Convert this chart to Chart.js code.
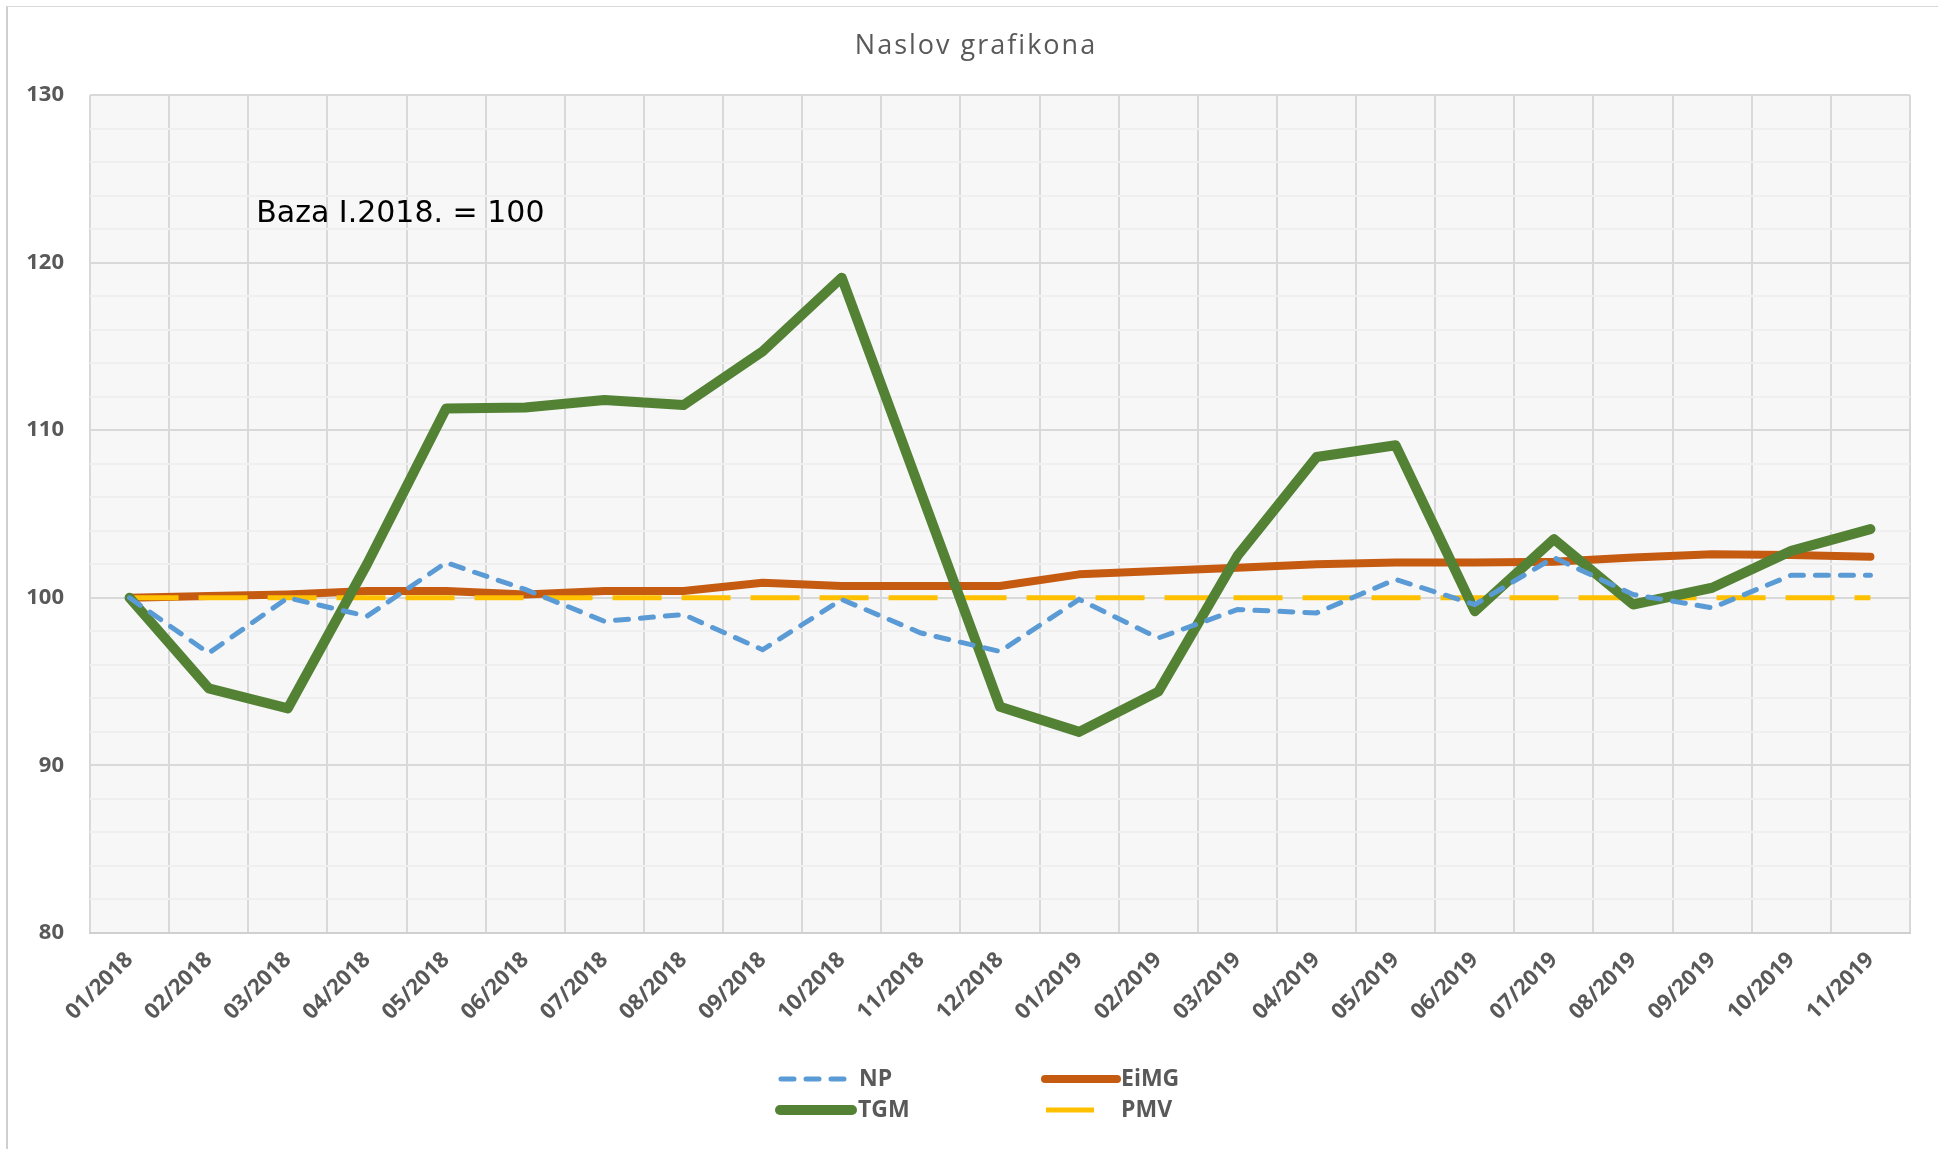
<!DOCTYPE html>
<html>
<head>
<meta charset="utf-8">
<script src="https://cdn.jsdelivr.net/npm/chart.js@4.4.0/dist/chart.umd.min.js"></script>
<style>
  html, body { margin: 0; padding: 0; background: #fff; }
  #wrap { position: relative; width: 1938px; height: 1149px; overflow: hidden; }
  #frame {
    position: absolute; left: 6px; top: 6px; right: -2px; bottom: -2px;
    border-left: 2px solid #cfcfcf; border-top: 1px solid #d9d9d9;
    pointer-events: none;
  }
</style>
</head>
<body>
<div id="wrap">
  <canvas id="myChart" width="1938" height="1149"></canvas>
  <div id="frame"></div>
</div>
<script>
// values (index, I.2018 = 100)
const labels = [
  "01/2018", "02/2018", "03/2018", "04/2018", "05/2018", "06/2018",
  "07/2018", "08/2018", "09/2018", "10/2018", "11/2018", "12/2018",
  "01/2019", "02/2019", "03/2019", "04/2019", "05/2019", "06/2019",
  "07/2019", "08/2019", "09/2019", "10/2019", "11/2019",
];
const npValues = [
  100, 96.7, 100.0, 98.9, 102.1, 100.5, 98.6, 99.0, 96.9, 99.9, 97.9, 96.8,
  99.9, 97.6, 99.3, 99.1, 101.1, 99.6, 102.4, 100.2, 99.4, 101.35, 101.35,
];
const eimgValues = [
  100, 100.1, 100.2, 100.4, 100.4, 100.2, 100.4, 100.4, 100.9, 100.7, 100.7, 100.7,
  101.4, 101.6, 101.8, 102.0, 102.1, 102.1, 102.15, 102.4, 102.6, 102.55, 102.45,
];
const tgmValues = [
  100, 94.6, 93.4, 102.0, 111.3, 111.35, 111.8, 111.5, 114.7, 119.1, 106.3, 93.5,
  92.0, 94.4, 102.5, 108.4, 109.1, 99.2, 103.5, 99.6, 100.6, 102.8, 104.1,
];
const pmvValues = [
  100, 100, 100, 100, 100, 100, 100, 100, 100, 100, 100, 100,
  100, 100, 100, 100, 100, 100, 100, 100, 100, 100, 100,
];
const yTicks = [80, 90, 100, 110, 120, 130];
const chartTitle = "Naslov grafikona";
const noteText = "Baza I.2018. = 100";

const tickFont = { family: "'Open Sans'", size: 22, weight: "bold" };

const plotBackground = {
  id: "plotBackground",
  beforeDraw(chart) {
    const { ctx, chartArea: a } = chart;
    ctx.save();
    ctx.fillStyle = "#ffffff";
    ctx.fillRect(0, 0, chart.width, chart.height);
    ctx.fillStyle = "#f7f7f7";
    ctx.fillRect(a.left, a.top, a.right - a.left, a.bottom - a.top);
    ctx.restore();
  },
};

// excel-like title with a bit of letter spacing
const excelTitle = {
  id: "excelTitle",
  afterDraw(chart) {
    const ctx = chart.ctx;
    ctx.save();
    ctx.font = "27px 'Open Sans'";
    ctx.fillStyle = "#595959";
    ctx.letterSpacing = "2px";
    ctx.textAlign = "center";
    ctx.textBaseline = "alphabetic";
    ctx.fillText(chartTitle, 976, 54);
    ctx.restore();
  },
};

const baseNote = {
  id: "baseNote",
  afterDraw(chart) {
    const { ctx, scales } = chart;
    ctx.save();
    ctx.font = "30px 'DejaVu Sans'";
    ctx.fillStyle = "#000000";
    ctx.textBaseline = "alphabetic";
    ctx.fillText(noteText, scales.x.getPixelForValue(1.6), scales.y.getPixelForValue(122.4));
    ctx.restore();
  },
};

// 2x2 legend under the chart
const bottomLegend = {
  id: "bottomLegend",
  afterDraw(chart) {
    const ctx = chart.ctx;
    const items = [
      { x0: 781, len: 70, tx: 859, y: 1079 },
      { x0: 1045, len: 72, tx: 1121, y: 1079 },
      { x0: 780, len: 72, tx: 858, y: 1110 },
      { x0: 1046, len: 48, tx: 1121, y: 1110 },
    ];
    chart.data.datasets.forEach((ds, i) => {
      const it = items[i];
      ctx.save();
      ctx.strokeStyle = ds.borderColor;
      ctx.lineWidth = ds.borderWidth;
      ctx.lineCap = ds.borderCapStyle || "butt";
      ctx.setLineDash(ds.borderDash || []);
      ctx.beginPath();
      ctx.moveTo(it.x0, it.y);
      ctx.lineTo(it.x0 + it.len, it.y);
      ctx.stroke();
      ctx.setLineDash([]);
      ctx.font = "bold 23px 'Open Sans'";
      ctx.fillStyle = "#595959";
      ctx.textBaseline = "middle";
      ctx.fillText(ds.label, it.tx, it.y);
      ctx.restore();
    });
  },
};

const ctx = document.getElementById("myChart").getContext("2d");
const myChart = new Chart(ctx, {
  type: "line",
  data: {
    labels: labels,
    datasets: [
      {
        label: "NP",
        data: npValues,
        borderColor: "#5B9BD5",
        borderWidth: 5,
        borderDash: [13, 12],
        borderCapStyle: "round",
        order: 0,
      },
      {
        label: "EiMG",
        data: eimgValues,
        borderColor: "#C55A11",
        borderWidth: 8,
        borderCapStyle: "round",
        borderJoinStyle: "round",
        order: 3,
      },
      {
        label: "TGM",
        data: tgmValues,
        borderColor: "#548235",
        borderWidth: 10,
        borderCapStyle: "round",
        borderJoinStyle: "round",
        order: 1,
      },
      {
        label: "PMV",
        data: pmvValues,
        borderColor: "#FFC000",
        borderWidth: 5,
        borderDash: [49, 20],
        borderCapStyle: "butt",
        order: 2,
      },
    ],
  },
  options: {
    responsive: false,
    animation: false,
    elements: { point: { radius: 0 }, line: { tension: 0, fill: false } },
    layout: { padding: { top: 95, right: 28, bottom: 110, left: 0 } },
    plugins: {
      legend: { display: false },
      title: { display: false },
      tooltip: { enabled: false },
    },
    scales: {
      x: {
        offset: true,
        grid: { offset: true, color: "#d9d9d9", lineWidth: 2, drawTicks: false },
        border: { display: true, color: "#d0d0d0", width: 2 },
        ticks: {
          autoSkip: false,
          minRotation: 45,
          maxRotation: 45,
          padding: 14,
          color: "#595959",
          font: tickFont,
        },
        afterFit: (s) => { s.height = 106; },
      },
      y: {
        min: yTicks[0],
        max: yTicks[yTicks.length - 1],
        grid: {
          color: (c) => (yTicks.includes(c.tick.value) ? "#d9d9d9" : "#efefef"),
          lineWidth: 2,
          drawTicks: false,
        },
        border: { display: false },
        ticks: {
          stepSize: 2,
          padding: 26,
          color: "#595959",
          font: tickFont,
          callback: (v) => (yTicks.includes(v) ? v : ""),
        },
        afterFit: (s) => { s.width = 90; },
      },
    },
  },
  plugins: [plotBackground, excelTitle, baseNote, bottomLegend],
});
</script>
</body>
</html>
